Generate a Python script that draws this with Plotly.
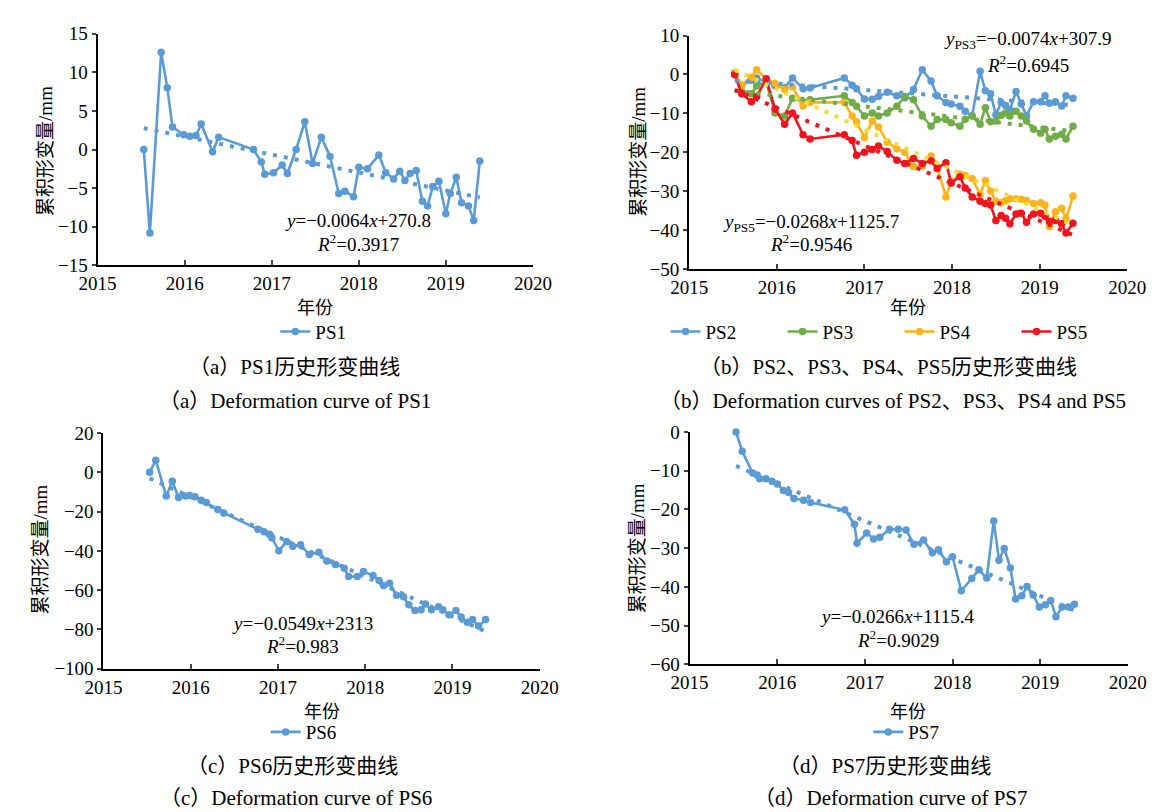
import numpy as np
import plotly.graph_objects as go

# ---------------- data (decimal years, cumulative deformation in mm) ----------------
ps1_t = [2015.53, 2015.60, 2015.73, 2015.80, 2015.86, 2015.99, 2016.06, 2016.13, 2016.19, 2016.32,
         2016.39, 2016.79, 2016.88, 2016.92, 2017.02, 2017.12, 2017.18, 2017.28, 2017.38, 2017.47,
         2017.57, 2017.67, 2017.77, 2017.84, 2017.94, 2018.00, 2018.10, 2018.23, 2018.31, 2018.40,
         2018.47, 2018.53, 2018.59, 2018.66, 2018.73, 2018.79, 2018.85, 2018.92, 2019.00, 2019.05,
         2019.12, 2019.18, 2019.26, 2019.32, 2019.39]
ps1_v = [0.0, -10.8, 12.6, 8.0, 2.9, 1.9, 1.7, 1.8, 3.3, -0.3,
         1.6, 0.0, -1.6, -3.2, -3.0, -2.0, -3.1, 0.0, 3.6, -1.8,
         1.6, -0.9, -5.7, -5.4, -6.1, -2.3, -2.5, -0.7, -3.0, -3.8,
         -2.8, -4.0, -3.1, -2.7, -6.7, -7.3, -4.8, -4.1, -8.3, -5.7,
         -3.6, -6.9, -7.3, -9.2, -1.5]

b_t = [2015.52, 2015.60, 2015.71, 2015.77, 2015.88, 2015.98, 2016.09, 2016.18, 2016.30, 2016.38,
       2016.77, 2016.86, 2016.91, 2017.00, 2017.09, 2017.16, 2017.26, 2017.37, 2017.46, 2017.56,
       2017.66, 2017.76, 2017.83, 2017.93, 2017.99, 2018.09, 2018.15, 2018.23, 2018.32, 2018.38,
       2018.44, 2018.50, 2018.56, 2018.61, 2018.66, 2018.73, 2018.79, 2018.85, 2018.93, 2019.01,
       2019.06, 2019.11, 2019.18, 2019.25, 2019.30, 2019.38]
ps2_v = [0.0, -2.8, -1.5, -0.9, -2.0, -2.9, -3.4, -0.9, -3.7, -3.5,
         -0.9, -2.8, -3.7, -6.3, -6.4, -5.7, -4.6, -5.5, -6.0, -3.9,
         1.2, -1.7, -5.5, -7.2, -7.6, -8.2, -9.5, -10.6, 0.8, -4.2,
         -5.0, -10.4, -7.2, -8.0, -9.1, -4.4, -7.6, -10.6, -7.0, -7.0,
         -5.5, -7.4, -7.0, -8.1, -5.5, -6.1]
ps3_v = [0.0, -4.4, -5.0, -3.0, -1.9, -9.9, -10.7, -6.1, -7.0, -6.5,
         -5.5, -7.2, -8.2, -10.7, -9.9, -10.7, -9.9, -8.2, -5.7, -6.5,
         -10.7, -13.3, -11.6, -11.6, -12.4, -13.3, -11.5, -10.7, -12.8, -8.6,
         -12.2, -12.0, -10.5, -9.9, -10.7, -9.5, -10.7, -12.0, -14.1, -15.1,
         -14.1, -16.6, -15.9, -15.4, -16.6, -13.3]
ps4_v = [0.5, -2.8, -0.7, 1.2, -1.1, -2.3, -3.9, -3.2, -8.1, -7.2,
         -7.2, -10.7, -12.2, -16.2, -12.0, -13.5, -17.4, -19.1, -20.0, -23.7,
         -23.7, -21.0, -23.7, -31.5, -27.5, -25.7, -26.0, -26.8, -30.9, -27.3,
         -30.0, -32.6, -33.0, -32.5, -32.0, -32.0, -32.1, -32.4, -33.2, -33.0,
         -33.6, -39.1, -35.3, -34.4, -37.2, -31.3]
ps5_v = [0.0, -5.0, -7.0, -5.7, -1.1, -8.9, -12.8, -9.9, -15.5, -16.6,
         -15.5, -17.0, -20.8, -20.0, -19.3, -18.4, -19.8, -22.1, -22.9, -21.6,
         -22.9, -22.2, -24.2, -22.7, -27.9, -26.3, -29.2, -31.5, -32.6, -33.2,
         -33.6, -37.6, -36.3, -37.0, -38.4, -35.9, -35.7, -38.0, -35.9, -35.7,
         -36.5, -37.8, -37.6, -38.4, -40.8, -38.3]

ps6_t = [2015.53, 2015.60, 2015.72, 2015.79, 2015.86, 2015.94, 2015.99, 2016.05, 2016.12, 2016.18,
         2016.31, 2016.38, 2016.77, 2016.84, 2016.90, 2016.93, 2017.01, 2017.10, 2017.17, 2017.26,
         2017.36, 2017.47, 2017.56, 2017.66, 2017.76, 2017.81, 2017.91, 2017.98, 2018.09, 2018.16,
         2018.21, 2018.28, 2018.36, 2018.44, 2018.50, 2018.57, 2018.64, 2018.69, 2018.76, 2018.84,
         2018.89, 2018.96, 2019.04, 2019.10, 2019.17, 2019.23, 2019.30, 2019.38]
ps6_v = [0.0, 6.1, -12.1, -4.6, -12.9, -12.1, -11.8, -12.4, -14.2, -15.4,
         -19.0, -20.7, -29.0, -30.3, -31.6, -33.3, -39.9, -35.3, -37.7, -36.9,
         -41.9, -40.7, -45.2, -46.9, -48.8, -53.0, -53.1, -50.5, -52.6, -55.1,
         -57.6, -56.5, -62.6, -63.4, -67.5, -70.4, -70.0, -67.1, -70.0, -68.4,
         -70.0, -72.5, -70.4, -73.7, -76.3, -75.0, -78.3, -75.0]

ps7_t = [2015.53, 2015.60, 2015.72, 2015.77, 2015.80, 2015.87, 2015.94, 2016.00, 2016.07, 2016.13,
         2016.19, 2016.30, 2016.38, 2016.77, 2016.88, 2016.91, 2017.02, 2017.10, 2017.17, 2017.28,
         2017.38, 2017.47, 2017.56, 2017.67, 2017.77, 2017.84, 2017.93, 2018.00, 2018.10, 2018.22,
         2018.30, 2018.39, 2018.47, 2018.53, 2018.59, 2018.66, 2018.72, 2018.79, 2018.85, 2018.92,
         2018.99, 2019.06, 2019.12, 2019.18, 2019.25, 2019.32, 2019.39]
ps7_v = [0.0, -5.0, -10.6, -11.1, -12.1, -12.1, -12.7, -13.4, -15.1, -15.6,
         -17.2, -17.6, -18.2, -20.1, -23.8, -28.7, -26.1, -27.6, -27.2, -25.1,
         -25.1, -25.3, -29.0, -27.9, -31.2, -30.4, -33.5, -32.2, -41.0, -37.8,
         -35.6, -37.7, -23.0, -33.1, -30.1, -35.1, -43.1, -42.3, -39.9, -42.1,
         -45.2, -44.6, -43.5, -47.7, -45.2, -45.2, -44.5]

x_ticks = [2015, 2016, 2017, 2018, 2019, 2020]

BLUE, GREEN, ORANGE, RED, YELLOW = "#5B9BD5", "#70AD47", "#FFB31A", "#F0141E", "#EDE03A"
SERIF = "Liberation Serif, Times New Roman, serif"
CJK = "Noto Sans CJK SC"
W, H = 1163, 812


def px(x):
    return x / W


def py(y):
    return 1 - y / H


def cjk(s):
    return '<span style="font-family:%s">%s</span>' % (CJK, s)


fig = go.Figure()

panels = [
    # axis suffix, x pixel domain, y pixel domain (top, bottom), y range, dtick
    dict(s="", xd=(73, 523), yd=(16, 254), yr=(-15, 15), dt=5),
    dict(s="2", xd=(684.5, 1137.5), yd=(18, 257.5), yr=(-50, 10), dt=10),
    dict(s="3", xd=(79, 530), yd=(426, 668), yr=(-100, 20), dt=20),
    dict(s="4", xd=(685, 1138), yd=(425, 663.5), yr=(-60, 0), dt=10),
]


def add_series(name, t, v, color, sfx, legend):
    fig.add_trace(go.Scatter(
        x=t, y=v, name=name, mode="lines+markers",
        line=dict(color=color, width=2.6), marker=dict(color=color, size=7.5),
        xaxis="x" + sfx, yaxis="y" + sfx, legend=legend, cliponaxis=False))


def add_trend(t, v, color, sfx):
    coef = np.polyfit(t, v, 1)
    xs = [t[0], t[-1]]
    fig.add_trace(go.Scatter(
        x=xs, y=list(np.polyval(coef, xs)), mode="lines", showlegend=False,
        line=dict(color=color, width=4, dash="4px,7px"),
        xaxis="x" + sfx, yaxis="y" + sfx, hoverinfo="skip"))


add_series("PS1", ps1_t, ps1_v, BLUE, "", "legend")
add_trend(ps1_t, ps1_v, BLUE, "")

add_series("PS2", b_t, ps2_v, BLUE, "2", "legend2")
add_series("PS3", b_t, ps3_v, GREEN, "2", "legend2")
add_series("PS4", b_t, ps4_v, ORANGE, "2", "legend2")
add_series("PS5", b_t, ps5_v, RED, "2", "legend2")
add_trend(b_t, ps2_v, BLUE, "2")
add_trend(b_t, ps3_v, GREEN, "2")
add_trend(b_t, ps4_v, YELLOW, "2")
add_trend(b_t, ps5_v, RED, "2")

add_series("PS6", ps6_t, ps6_v, BLUE, "3", "legend3")
add_trend(ps6_t, ps6_v, BLUE, "3")

add_series("PS7", ps7_t, ps7_v, BLUE, "4", "legend4")
add_trend(ps7_t, ps7_v, BLUE, "4")

layout = dict(
    width=W, height=H, margin=dict(l=0, r=0, t=0, b=0),
    paper_bgcolor="white", plot_bgcolor="white", showlegend=True,
    font=dict(family=SERIF, size=19, color="black"),
)

annotations = []
for p in panels:
    s = p["s"]
    layout["xaxis" + s] = dict(
        domain=[px(p["xd"][0]), px(p["xd"][1])], range=[2015, 2020],
        anchor="y" + s, tickvals=x_ticks, ticks="inside", ticklen=5, tickwidth=2,
        showline=True, linecolor="black", linewidth=2, showgrid=False, zeroline=False,
        tickfont=dict(family=SERIF, size=19, color="black"))
    layout["yaxis" + s] = dict(
        domain=[py(p["yd"][1]), py(p["yd"][0])], range=list(p["yr"]), dtick=p["dt"],
        anchor="x" + s, ticks="outside", ticklen=4, tickwidth=2,
        showline=True, linecolor="black", linewidth=2, showgrid=False, zeroline=False,
        tickfont=dict(family=SERIF, size=19, color="black"))
    # axis arrowheads (axis decoration)
    fig.add_trace(go.Scatter(
        x=[2020.03], y=[p["yr"][0]], mode="markers", showlegend=False, hoverinfo="skip",
        marker=dict(symbol="arrow-right", size=11, color="black"), cliponaxis=False,
        xaxis="x" + s, yaxis="y" + s))
    span = p["yr"][1] - p["yr"][0]
    fig.add_trace(go.Scatter(
        x=[2015], y=[p["yr"][1] + span * 0.008], mode="markers", showlegend=False,
        hoverinfo="skip", marker=dict(symbol="arrow-up", size=11, color="black"),
        cliponaxis=False, xaxis="x" + s, yaxis="y" + s))


def txt(text, x, y, size=19, angle=0):
    annotations.append(dict(text=text, x=px(x), y=py(y), xref="paper", yref="paper",
                            xanchor="center", yanchor="middle", showarrow=False,
                            textangle=angle, font=dict(family=SERIF, size=size, color="black")))


# axis titles
for (yx, yy), (xx, xy) in [((17, 136), (298, 296)), ((630, 137), (911, 296)),
                           ((12, 546), (305, 710)), ((630, 544), (911, 710))]:
    txt(cjk("累积形变量") + "/mm", yx, yy, size=19, angle=-90)
    txt(cjk("年份"), xx, xy, size=18)

# regression equations
txt("<i>y</i>=−0.0064<i>x</i>+270.8", 342, 208)
txt("<i>R</i><sup>2</sup>=0.3917", 342, 231)
txt("<i>y</i><sub>PS3</sub>=−0.0074<i>x</i>+307.9", 1034, 23)
txt("<i>R</i><sup>2</sup>=0.6945", 1035, 47)
txt("<i>y</i><sub>PS5</sub>=−0.0268<i>x</i>+1125.7", 810, 210)
txt("<i>R</i><sup>2</sup>=0.9546", 810, 231)
txt("<i>y</i>=−0.0549<i>x</i>+2313", 285, 622)
txt("<i>R</i><sup>2</sup>=0.983", 285, 644)
txt("<i>y</i>=−0.0266<i>x</i>+1115.4", 900, 614)
txt("<i>R</i><sup>2</sup>=0.9029", 900, 637)

# captions
L, R_ = cjk("（"), cjk("）")
txt(L + "a" + R_ + "PS1" + cjk("历史形变曲线"), 277, 356, size=21)
txt(L + "a" + R_ + "Deformation curve of PS1", 277, 391, size=21)
txt(L + "b" + R_ + "PS2" + cjk("、") + "PS3" + cjk("、") + "PS4" + cjk("、") + "PS5"
    + cjk("历史形变曲线"), 891, 356, size=21)
txt(L + "b" + R_ + "Deformation curves of PS2" + cjk("、") + "PS3" + cjk("、") + "PS4 and PS5",
    895, 391, size=21)
txt(L + "c" + R_ + "PS6" + cjk("历史形变曲线"), 274, 766, size=21)
txt(L + "c" + R_ + "Deformation curve of PS6", 278, 799, size=21)
txt(L + "d" + R_ + "PS7" + cjk("历史形变曲线"), 887, 766, size=21)
txt(L + "d" + R_ + "Deformation curve of PS7", 893, 799, size=21)

layout["annotations"] = annotations

leg_common = dict(orientation="h", xanchor="center", yanchor="middle",
                  font=dict(family=SERIF, size=19, color="black"),
                  bgcolor="rgba(0,0,0,0)", itemwidth=30)
layout["legend"] = dict(x=px(296), y=py(322), **leg_common)
layout["legend2"] = dict(x=px(902), y=py(322), entrywidth=72, entrywidthmode="pixels", **leg_common)
layout["legend3"] = dict(x=px(286), y=py(733), **leg_common)
layout["legend4"] = dict(x=px(909), y=py(733), **leg_common)

fig.update_layout(**layout)
fig.write_html("out.html")
